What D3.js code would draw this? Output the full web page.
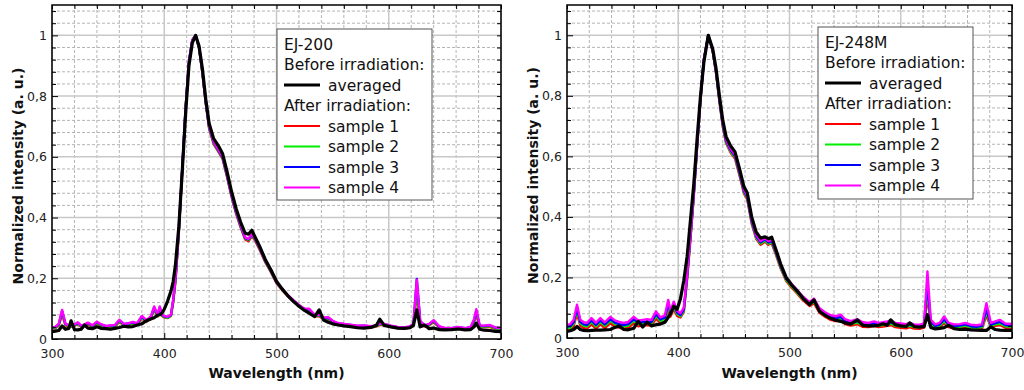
<!DOCTYPE html>
<html>
<head>
<meta charset="utf-8">
<script src="https://cdn.jsdelivr.net/npm/d3@7"></script>
<style>
  html, body { margin: 0; padding: 0; background: #fff; }
  svg { display: block; font-family: "DejaVu Sans", sans-serif; }
</style>
</head>
<body>
<div id="chart"></div>
<script>
// ---- EJ-200 (left panel) ----
const wlA = [
  300, 303, 306, 309, 312, 315, 317, 320, 323, 326,
  329, 332, 336, 340, 344, 348, 352, 356, 360, 364,
  368, 372, 376, 380, 384, 388, 391, 394, 396, 398,
  400, 403, 406, 408, 410, 413, 416, 419, 422, 425,
  428, 431, 434, 437, 440, 444, 448, 452, 456, 460,
  464, 468, 472, 475, 478, 481, 485, 490, 495, 500,
  505, 510, 515, 520, 525, 529, 534, 538, 542, 546,
  550, 555, 560, 566, 572, 578, 584, 589, 592, 596,
  602, 608, 614, 619, 622, 625, 628, 632, 636, 640,
  645, 650, 656, 662, 668, 673, 676, 678, 681, 685,
  690, 695, 700
];
const avgA = [
  0.024, 0.026, 0.028, 0.043, 0.032, 0.035, 0.060, 0.031, 0.030, 0.032,
  0.046, 0.036, 0.034, 0.040, 0.035, 0.034, 0.032, 0.035, 0.038, 0.042,
  0.040, 0.041, 0.046, 0.050, 0.060, 0.066, 0.070, 0.078, 0.080, 0.086,
  0.098, 0.125, 0.158, 0.190, 0.245, 0.370, 0.550, 0.740, 0.900, 0.975,
  1.000, 0.965, 0.890, 0.790, 0.710, 0.660, 0.638, 0.610, 0.550, 0.485,
  0.430, 0.385, 0.349, 0.345, 0.358, 0.335, 0.305, 0.262, 0.228, 0.190,
  0.165, 0.143, 0.124, 0.108, 0.094, 0.085, 0.074, 0.096, 0.062, 0.055,
  0.050, 0.046, 0.043, 0.041, 0.037, 0.036, 0.038, 0.045, 0.065, 0.045,
  0.040, 0.036, 0.035, 0.037, 0.045, 0.096, 0.040, 0.046, 0.034, 0.036,
  0.031, 0.030, 0.031, 0.033, 0.030, 0.031, 0.040, 0.052, 0.032, 0.029,
  0.028, 0.025, 0.024
];
const s1A = [
  0.034, 0.035, 0.044, 0.080, 0.045, 0.041, 0.040, 0.043, 0.049, 0.040,
  0.043, 0.048, 0.040, 0.051, 0.043, 0.039, 0.040, 0.041, 0.056, 0.045,
  0.047, 0.050, 0.047, 0.068, 0.056, 0.068, 0.096, 0.074, 0.097, 0.076,
  0.071, 0.069, 0.076, 0.122, 0.190, 0.350, 0.550, 0.755, 0.910, 0.983,
  1.000, 0.958, 0.875, 0.775, 0.692, 0.642, 0.618, 0.593, 0.533, 0.468,
  0.413, 0.368, 0.328, 0.322, 0.338, 0.324, 0.294, 0.253, 0.220, 0.184,
  0.161, 0.141, 0.124, 0.108, 0.095, 0.093, 0.075, 0.075, 0.065, 0.066,
  0.055, 0.048, 0.046, 0.043, 0.040, 0.041, 0.038, 0.041, 0.047, 0.045,
  0.040, 0.036, 0.034, 0.038, 0.045, 0.150, 0.052, 0.041, 0.045, 0.055,
  0.038, 0.032, 0.032, 0.036, 0.032, 0.036, 0.055, 0.080, 0.040, 0.039,
  0.040, 0.033, 0.031
];
const s2A = [
  0.036, 0.037, 0.046, 0.086, 0.047, 0.043, 0.041, 0.045, 0.051, 0.041,
  0.045, 0.050, 0.042, 0.053, 0.045, 0.040, 0.042, 0.043, 0.058, 0.047,
  0.049, 0.052, 0.049, 0.071, 0.058, 0.070, 0.100, 0.076, 0.100, 0.078,
  0.073, 0.070, 0.077, 0.125, 0.194, 0.354, 0.554, 0.757, 0.912, 0.984,
  1.000, 0.959, 0.877, 0.777, 0.695, 0.645, 0.620, 0.596, 0.536, 0.471,
  0.416, 0.371, 0.331, 0.326, 0.341, 0.327, 0.297, 0.255, 0.222, 0.186,
  0.163, 0.143, 0.126, 0.110, 0.097, 0.096, 0.077, 0.077, 0.067, 0.068,
  0.057, 0.050, 0.048, 0.045, 0.042, 0.043, 0.040, 0.043, 0.049, 0.047,
  0.042, 0.038, 0.036, 0.040, 0.047, 0.165, 0.055, 0.043, 0.047, 0.058,
  0.040, 0.034, 0.034, 0.038, 0.034, 0.038, 0.058, 0.087, 0.042, 0.041,
  0.043, 0.035, 0.033
];
const s3A = [
  0.038, 0.039, 0.048, 0.092, 0.049, 0.045, 0.043, 0.047, 0.053, 0.043,
  0.047, 0.052, 0.044, 0.055, 0.047, 0.042, 0.044, 0.045, 0.061, 0.049,
  0.051, 0.054, 0.051, 0.074, 0.060, 0.072, 0.104, 0.078, 0.104, 0.080,
  0.075, 0.072, 0.079, 0.128, 0.198, 0.358, 0.558, 0.759, 0.914, 0.985,
  1.000, 0.960, 0.879, 0.779, 0.698, 0.648, 0.623, 0.598, 0.538, 0.473,
  0.418, 0.373, 0.333, 0.328, 0.343, 0.329, 0.299, 0.257, 0.224, 0.187,
  0.164, 0.144, 0.127, 0.111, 0.099, 0.098, 0.079, 0.079, 0.069, 0.070,
  0.059, 0.051, 0.049, 0.046, 0.043, 0.044, 0.041, 0.044, 0.051, 0.049,
  0.043, 0.039, 0.037, 0.041, 0.049, 0.198, 0.058, 0.044, 0.049, 0.060,
  0.041, 0.035, 0.035, 0.039, 0.035, 0.039, 0.062, 0.093, 0.044, 0.043,
  0.045, 0.037, 0.035
];
const s4A = [
  0.039, 0.040, 0.050, 0.096, 0.050, 0.046, 0.044, 0.048, 0.055, 0.044,
  0.048, 0.054, 0.045, 0.057, 0.048, 0.043, 0.045, 0.046, 0.063, 0.050,
  0.052, 0.056, 0.052, 0.076, 0.062, 0.074, 0.107, 0.080, 0.107, 0.082,
  0.076, 0.073, 0.080, 0.130, 0.200, 0.360, 0.560, 0.760, 0.915, 0.985,
  1.000, 0.960, 0.880, 0.780, 0.700, 0.650, 0.625, 0.600, 0.540, 0.475,
  0.420, 0.375, 0.335, 0.330, 0.345, 0.330, 0.300, 0.258, 0.225, 0.188,
  0.165, 0.145, 0.128, 0.112, 0.100, 0.100, 0.080, 0.080, 0.070, 0.072,
  0.060, 0.052, 0.050, 0.047, 0.044, 0.045, 0.042, 0.045, 0.052, 0.050,
  0.044, 0.040, 0.038, 0.042, 0.050, 0.195, 0.060, 0.045, 0.050, 0.062,
  0.042, 0.036, 0.036, 0.040, 0.036, 0.040, 0.065, 0.098, 0.045, 0.044,
  0.046, 0.038, 0.036
];

// ---- EJ-248M (right panel) ----
const wlB = [
  300, 303, 306, 309, 312, 315, 318, 322, 326, 330,
  334, 339, 343, 347, 351, 355, 360, 364, 368, 372,
  376, 380, 384, 388, 391, 393, 396, 399, 402, 405,
  408, 411, 414, 417, 420, 423, 427, 431, 434, 437,
  440, 443, 447, 451, 455, 459, 462, 466, 470, 474,
  478, 481, 484, 488, 492, 497, 502, 507, 512, 518,
  522, 527, 532, 537, 542, 546, 550, 555, 561, 566,
  571, 576, 580, 584, 588, 591, 595, 600, 605, 608,
  612, 617, 621, 624, 627, 631, 635, 639, 643, 648,
  653, 658, 663, 668, 673, 677, 681, 685, 689, 694,
  700
];
const avgB = [
  0.022, 0.024, 0.028, 0.038, 0.028, 0.025, 0.024, 0.025, 0.026, 0.026,
  0.027, 0.028, 0.035, 0.040, 0.028, 0.027, 0.032, 0.055, 0.036, 0.052,
  0.040, 0.044, 0.046, 0.052, 0.068, 0.080, 0.105, 0.095, 0.130, 0.190,
  0.270, 0.390, 0.510, 0.660, 0.800, 0.910, 1.000, 0.955, 0.890, 0.800,
  0.720, 0.665, 0.635, 0.615, 0.560, 0.500, 0.480, 0.400, 0.350, 0.330,
  0.334, 0.328, 0.333, 0.290, 0.245, 0.200, 0.175, 0.155, 0.132, 0.110,
  0.126, 0.088, 0.075, 0.065, 0.058, 0.055, 0.050, 0.046, 0.060, 0.042,
  0.040, 0.040, 0.042, 0.047, 0.042, 0.060, 0.044, 0.040, 0.038, 0.050,
  0.038, 0.036, 0.038, 0.077, 0.035, 0.030, 0.032, 0.034, 0.042, 0.031,
  0.028, 0.029, 0.027, 0.026, 0.025, 0.025, 0.037, 0.028, 0.026, 0.025,
  0.025
];
const s1B = [
  0.026, 0.028, 0.040, 0.080, 0.041, 0.033, 0.031, 0.045, 0.031, 0.045,
  0.033, 0.049, 0.038, 0.034, 0.031, 0.034, 0.049, 0.039, 0.041, 0.043,
  0.041, 0.065, 0.049, 0.056, 0.096, 0.071, 0.096, 0.073, 0.068, 0.086,
  0.195, 0.328, 0.471, 0.634, 0.787, 0.917, 1.000, 0.947, 0.874, 0.781,
  0.698, 0.643, 0.613, 0.593, 0.538, 0.478, 0.458, 0.378, 0.328, 0.308,
  0.318, 0.308, 0.313, 0.273, 0.230, 0.188, 0.166, 0.146, 0.125, 0.106,
  0.115, 0.083, 0.070, 0.060, 0.056, 0.059, 0.046, 0.041, 0.046, 0.037,
  0.036, 0.040, 0.036, 0.038, 0.040, 0.043, 0.036, 0.034, 0.032, 0.036,
  0.031, 0.030, 0.034, 0.140, 0.043, 0.031, 0.036, 0.050, 0.036, 0.031,
  0.032, 0.036, 0.030, 0.028, 0.031, 0.075, 0.035, 0.040, 0.043, 0.034,
  0.032
];
const s2B = [
  0.032, 0.034, 0.047, 0.090, 0.048, 0.040, 0.038, 0.053, 0.038, 0.053,
  0.040, 0.057, 0.046, 0.041, 0.038, 0.041, 0.057, 0.046, 0.048, 0.050,
  0.048, 0.073, 0.056, 0.063, 0.106, 0.078, 0.104, 0.079, 0.072, 0.090,
  0.200, 0.332, 0.474, 0.636, 0.788, 0.918, 1.000, 0.948, 0.876, 0.784,
  0.702, 0.647, 0.617, 0.597, 0.542, 0.482, 0.462, 0.382, 0.332, 0.312,
  0.322, 0.312, 0.317, 0.277, 0.234, 0.192, 0.170, 0.150, 0.129, 0.110,
  0.120, 0.088, 0.075, 0.065, 0.061, 0.065, 0.051, 0.046, 0.051, 0.042,
  0.041, 0.045, 0.041, 0.043, 0.045, 0.048, 0.041, 0.039, 0.037, 0.041,
  0.036, 0.035, 0.039, 0.160, 0.048, 0.036, 0.041, 0.056, 0.041, 0.036,
  0.037, 0.041, 0.035, 0.033, 0.036, 0.085, 0.040, 0.045, 0.048, 0.039,
  0.037
];
const s3B = [
  0.037, 0.039, 0.052, 0.098, 0.053, 0.045, 0.043, 0.058, 0.043, 0.058,
  0.045, 0.062, 0.051, 0.046, 0.043, 0.046, 0.062, 0.051, 0.053, 0.055,
  0.053, 0.079, 0.061, 0.068, 0.114, 0.083, 0.110, 0.084, 0.076, 0.094,
  0.205, 0.336, 0.477, 0.638, 0.789, 0.919, 1.000, 0.949, 0.878, 0.787,
  0.706, 0.651, 0.621, 0.601, 0.546, 0.486, 0.466, 0.386, 0.336, 0.316,
  0.326, 0.316, 0.321, 0.281, 0.238, 0.196, 0.174, 0.154, 0.133, 0.114,
  0.125, 0.093, 0.080, 0.070, 0.066, 0.070, 0.056, 0.050, 0.056, 0.046,
  0.045, 0.049, 0.045, 0.047, 0.049, 0.052, 0.045, 0.043, 0.041, 0.045,
  0.040, 0.039, 0.043, 0.180, 0.053, 0.040, 0.045, 0.062, 0.045, 0.040,
  0.041, 0.045, 0.039, 0.037, 0.040, 0.095, 0.044, 0.049, 0.053, 0.043,
  0.041
];
const s4B = [
  0.044, 0.046, 0.060, 0.110, 0.060, 0.052, 0.050, 0.066, 0.050, 0.066,
  0.052, 0.070, 0.058, 0.053, 0.050, 0.053, 0.070, 0.058, 0.060, 0.062,
  0.060, 0.088, 0.068, 0.075, 0.126, 0.090, 0.120, 0.090, 0.082, 0.100,
  0.210, 0.340, 0.480, 0.640, 0.790, 0.920, 1.000, 0.950, 0.880, 0.790,
  0.710, 0.655, 0.625, 0.605, 0.550, 0.490, 0.470, 0.390, 0.340, 0.320,
  0.330, 0.320, 0.325, 0.285, 0.242, 0.200, 0.178, 0.158, 0.137, 0.118,
  0.130, 0.098, 0.085, 0.075, 0.072, 0.077, 0.062, 0.056, 0.062, 0.052,
  0.050, 0.055, 0.050, 0.052, 0.055, 0.058, 0.050, 0.048, 0.046, 0.050,
  0.045, 0.044, 0.048, 0.220, 0.060, 0.045, 0.050, 0.071, 0.050, 0.045,
  0.046, 0.050, 0.044, 0.042, 0.045, 0.115, 0.050, 0.055, 0.060, 0.048,
  0.046
];

const sampleNames = ["sample 1", "sample 2", "sample 3", "sample 4"];
const sampleColors = ["#ff0000", "#00ee00", "#0000ff", "#ff00ff"];
const xMajor = [300, 400, 500, 600, 700];
const yMajor = [0, 0.2, 0.4, 0.6, 0.8, 1];

const W = 1024, H = 390;
const svg = d3.select("#chart").append("svg")
  .attr("width", W).attr("height", H);

const loc = d3.formatLocale({ decimal: ",", thousands: ".", grouping: [3], currency: ["", ""] });
const yFmt = loc.format(".1~f");

function drawPanel(cfg) {
  const x = d3.scaleLinear().domain([300, 700]).range([cfg.left, cfg.right]);
  const y = d3.scaleLinear().domain([0, 1.1]).range([cfg.bottom, cfg.top]);
  const g = svg.append("g");

  const xMinor = d3.range(320, 700, 20).filter(v => v % 100 !== 0);
  const yMinor = d3.range(1, 28).map(i => i * 0.04).filter(v => Math.abs(v / 0.2 - Math.round(v / 0.2)) > 1e-6);

  // grid
  g.selectAll(".gxm").data(xMinor).enter().append("line")
    .attr("x1", d => x(d)).attr("x2", d => x(d))
    .attr("y1", cfg.top).attr("y2", cfg.bottom)
    .attr("stroke", "#b4b4b4").attr("stroke-width", 1).attr("stroke-dasharray", "3,2");
  g.selectAll(".gym").data(yMinor).enter().append("line")
    .attr("x1", cfg.left).attr("x2", cfg.right)
    .attr("y1", d => y(d)).attr("y2", d => y(d))
    .attr("stroke", "#b4b4b4").attr("stroke-width", 1).attr("stroke-dasharray", "3,2");
  g.selectAll(".gxM").data(xMajor).enter().append("line")
    .attr("x1", d => x(d)).attr("x2", d => x(d))
    .attr("y1", cfg.top).attr("y2", cfg.bottom)
    .attr("stroke", "#c8c8c8").attr("stroke-width", 1.5);
  g.selectAll(".gyM").data(yMajor).enter().append("line")
    .attr("x1", cfg.left).attr("x2", cfg.right)
    .attr("y1", d => y(d)).attr("y2", d => y(d))
    .attr("stroke", "#c8c8c8").attr("stroke-width", 1.5);

  // curves
  const clipId = "clip" + cfg.id;
  svg.append("clipPath").attr("id", clipId).append("rect")
    .attr("x", cfg.left).attr("y", cfg.top)
    .attr("width", cfg.right - cfg.left).attr("height", cfg.bottom - cfg.top);
  const line = d3.line().x(d => x(d[0])).y(d => y(d[1]));
  const cg = g.append("g").attr("clip-path", "url(#" + clipId + ")");
  cfg.samples.forEach((s, i) => {
    cg.append("path").datum(d3.zip(cfg.wl, s))
      .attr("d", line).attr("fill", "none")
      .attr("stroke", sampleColors[i]).attr("stroke-width", 2.4)
      .attr("stroke-linejoin", "round");
  });
  cg.append("path").datum(d3.zip(cfg.wl, cfg.avg))
    .attr("d", line).attr("fill", "none")
    .attr("stroke", "#000").attr("stroke-width", 3.2)
    .attr("stroke-linejoin", "round");

  // ticks (inward) on all sides
  const axStyle = sel => {
    sel.select(".domain").remove();
    sel.selectAll("line").attr("stroke", "#000").attr("stroke-width", 1);
    sel.selectAll("text").attr("font-size", 12.5).attr("fill", "#222")
      .attr("font-family", "DejaVu Sans, sans-serif");
  };
  g.append("g").attr("transform", `translate(0,${cfg.bottom})`)
    .call(d3.axisBottom(x).tickValues(xMajor).tickSize(-6).tickPadding(10).tickFormat(d3.format("d")))
    .call(axStyle);
  g.append("g").attr("transform", `translate(0,${cfg.bottom})`)
    .call(d3.axisBottom(x).tickValues(xMinor).tickSize(-4).tickFormat(""))
    .call(axStyle);
  g.append("g").attr("transform", `translate(0,${cfg.top})`)
    .call(d3.axisTop(x).tickValues(xMajor.concat(xMinor)).tickSize(-4).tickFormat(""))
    .call(axStyle);
  g.append("g").attr("transform", `translate(${cfg.left},0)`)
    .call(d3.axisLeft(y).tickValues(yMajor).tickSize(-6).tickPadding(5).tickFormat(yFmt))
    .call(axStyle);
  g.append("g").attr("transform", `translate(${cfg.left},0)`)
    .call(d3.axisLeft(y).tickValues(yMinor).tickSize(-4).tickFormat(""))
    .call(axStyle);
  g.append("g").attr("transform", `translate(${cfg.right},0)`)
    .call(d3.axisRight(y).tickValues(yMajor.concat(yMinor)).tickSize(-4).tickFormat(""))
    .call(axStyle);

  // frame
  g.append("rect").attr("x", cfg.left).attr("y", cfg.top)
    .attr("width", cfg.right - cfg.left).attr("height", cfg.bottom - cfg.top)
    .attr("fill", "none").attr("stroke", "#000").attr("stroke-width", 1.5);

  // axis titles
  g.append("text")
    .attr("x", (cfg.left + cfg.right) / 2).attr("y", 378)
    .attr("text-anchor", "middle").attr("font-size", 14).attr("font-weight", "bold")
    .attr("fill", "#111").text("Wavelength (nm)");
  g.append("text")
    .attr("transform", `translate(${cfg.left - 34},${(cfg.top + cfg.bottom) / 2 + 4}) rotate(-90)`)
    .attr("text-anchor", "middle").attr("dy", "0.35em")
    .attr("font-size", 14).attr("font-weight", "bold")
    .attr("fill", "#111").text("Normalized intensity (a. u.)");

  // legend
  const L = cfg.legend;
  const lg = g.append("g");
  lg.append("rect").attr("x", L.x).attr("y", L.y).attr("width", L.w).attr("height", L.h)
    .attr("fill", "#fff").attr("stroke", "#555").attr("stroke-width", 1);
  const rows = [
    { text: cfg.name },
    { text: "Before irradiation:" },
    { text: "averaged", color: "#000", width: 3 },
    { text: "After irradiation:" }
  ].concat(sampleNames.map((n, i) => ({ text: n, color: sampleColors[i], width: 2 })));
  const tx = L.x + 7;
  rows.forEach((r, i) => {
    const cy = L.y + 15 + i * 20.5;
    if (r.color) {
      lg.append("line").attr("x1", tx).attr("x2", tx + 36)
        .attr("y1", cy).attr("y2", cy)
        .attr("stroke", r.color).attr("stroke-width", r.width);
    }
    lg.append("text").attr("x", r.color ? tx + 44 : tx).attr("y", cy)
      .attr("dy", "0.36em").attr("font-size", 15.5).attr("fill", "#111")
      .text(r.text);
  });
}

drawPanel({
  id: "A", name: "EJ-200", left: 52, right: 501, top: 5, bottom: 339,
  wl: wlA, avg: avgA, samples: [s1A, s2A, s3A, s4A],
  legend: { x: 277, y: 29, w: 155, h: 171 }
});
drawPanel({
  id: "B", name: "EJ-248M", left: 567, right: 1012, top: 5, bottom: 338,
  wl: wlB, avg: avgB, samples: [s1B, s2B, s3B, s4B],
  legend: { x: 818, y: 27, w: 155, h: 172 }
});
</script>
</body>
</html>
